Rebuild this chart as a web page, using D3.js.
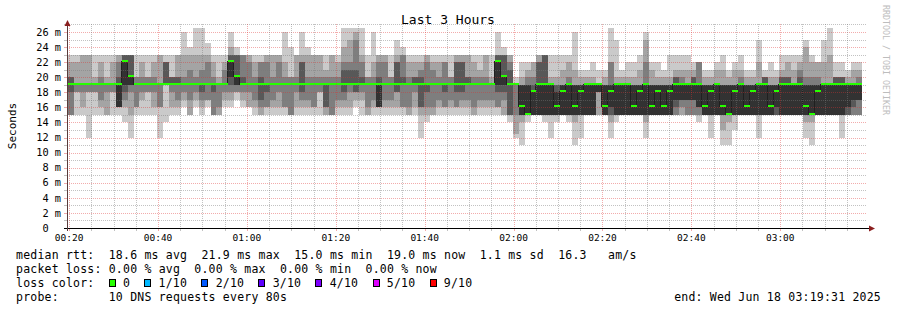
<!DOCTYPE html>
<html><head><meta charset="utf-8">
<script src="https://cdn.jsdelivr.net/npm/d3@7"></script>
<style>
body{margin:0;background:#fff}
svg text{font-family:"DejaVu Sans Mono",monospace}
</style>
</head><body>
<svg id="chart" width="897" height="310"></svg>
<script>
// ---------------- data ----------------
const title = "Last 3 Hours";
const yAxisTitle = "Seconds";
const watermark = "RRDTOOL / TOBI OETIKER";
const startTime = new Date(2025, 5, 18, 0, 19, 31);
const endTime = new Date(2025, 5, 18, 3, 19, 31);
const firstStepEnd = new Date(2025, 5, 18, 0, 19, 49);
const stepSeconds = 80;
const yTickValues = [0, 2, 4, 6, 8, 10, 12, 14, 16, 18, 20, 22, 24, 26];
const yTickLabels = ["0", "2 m", "4 m", "6 m", "8 m", "10 m", "12 m", "14 m", "16 m", "18 m", "20 m", "22 m", "24 m", "26 m"];
const xTickLabels = ["00:20", "00:40", "01:00", "01:20", "01:40", "02:00", "02:20", "02:40", "03:00"];

// 10 sorted ping times (ms) per 80 s step
const pingsByStep = [
[15,15,16,18,19,19,20,21,22,23],[15,15,15,18,19,19,20,20,22,23],[15,18,18,19,19,19,19,19,22,23],[15,16,18,19,19,19,19,19,23,23],
[12,18,18,19,19,19,19,19,23,23],[15,18,18,19,19,19,19,19,20,23],[15,16,17,19,19,19,19,20,22,23],[15,15,18,19,19,19,19,19,20,23],
[15,18,18,19,19,19,19,19,22,23],[15,16,16,16,16,19,20,22,23,23],[14,16,17,18,19,22,23,23,23,23],[12,15,18,19,19,20,23,23,23,23],
[15,16,16,19,19,19,19,20,20,23],[15,17,18,19,19,19,19,20,22,23],[15,18,18,19,19,19,19,20,20,23],[15,16,18,19,19,19,19,20,22,23],
[12,16,16,19,19,19,19,19,23,23],[14,19,19,19,19,19,22,22,22,23],[15,16,18,19,19,19,20,20,20,23],[15,16,17,19,19,19,20,20,23,23],
[16,17,18,19,19,19,19,20,23,26],[15,15,17,19,19,19,19,21,23,24],[16,17,18,19,19,19,19,20,23,26.5],[15,16,17,18,19,19,19,21,23,26.5],
[16,17,17,19,19,19,19,22,23,24.5],[15,15,15,18,19,19,19,20,22,23],[15,15,16,19,19,19,19,19,20,23],[16,17,18,19,19,19,19,21,22,23],
[16,17,18,19,20,22,23,23,24,26],[17,18,18,19,19,20,23,23,23,24],[16,17,18,19,19,19,20,23,23,23],[16,16,18,19,19,19,19,22,23,23],
[15,16,17,19,19,19,19,20,22,23],[15,15,16,17,19,19,20,22,22,23],[15,16,16,18,19,19,19,22,23,23],[15,16,17,19,19,19,19,20,23,23],
[15,16,18,19,19,19,19,22,23,23],[15,16,16,19,19,19,19,20,22,26],[15,15,15,19,19,19,19,20,20,24],[15,16,18,19,19,19,19,20,23,23],
[15,16,17,18,19,19,22,22,23,26],[15,16,17,19,19,19,19,20,23,24],[15,16,16,19,19,19,19,20,23,23],[15,18,18,19,19,19,19,20,23,23],
[15,15,16,16,19,19,19,20,21,23],[15,15,15,19,19,19,19,20,23,23],[15,16,17,19,19,19,19,20,22,23],[15,16,17,18,19,19,21,22,24,26.5],
[15,16,18,19,19,19,21,22,25,26.5],[16,17,18,18,19,19,21,25,26,26.5],[15,17,18,19,19,19,20,22,23,26.5],[15,15,16,19,19,19,19,20,20,23],
[15,16,17,19,19,19,19,20,22,26],[15,16,16,16,16,19,20,22,23,23],[15,16,17,19,19,19,19,22,23,23],[15,16,17,19,19,19,19,20,20,23],
[15,16,18,18,19,19,22,22,23,25],[15,16,16,19,19,19,20,23,23,24],[15,15,16,19,19,19,19,20,22,23],[15,16,18,19,19,19,20,20,22,23],
[12,15,16,16,19,19,20,21,22,23],[14,15,16,18,19,19,19,22,23,23],[15,15,16,19,19,19,19,21,22,23],[15,16,17,19,19,19,19,20,22,23],
[15,16,16,18,19,19,19,22,22,23],[15,16,17,19,19,19,19,20,20,23],[15,16,16,18,19,19,22,22,23,23],[15,16,17,18,19,19,22,22,23,23],
[15,16,17,19,19,19,20,20,23,23],[15,15,16,19,19,19,19,20,22,23],[15,16,17,19,19,19,19,20,21,23],[15,16,17,19,19,19,19,20,23,23],
[15,16,17,19,19,19,19,19,20,23],[15,16,16,18,19,22,23,23,23,26],[15,15,17,18,19,20,23,23,23,24],[14,15,15,15,19,19,21,22,23,23],
[12,12.5,15,19,19,19,19,19,19,20],[11,14,15,15,15,19,19,19,20,22],[14,15,15,15,15,19,19,20,21,22],[15,15,15,15,15,18,19,20,22,22],
[15,15,15,15,15,19,22,22,23,23],[14,15,15,15,15,19,23,23,23,23],[12,15,15,15,15,19,19,19,20,23],[14,15,15,15,15,18,19,19,20,23],
[15,15,15,15,15,19,19,19,21,23],[14,15,15,15,15,19,19,20,22,23],[11,14,15,15,15,19,19,19,21,26],[12,15,15,15,15,19,19,19,20,21],
[15,15,15,15,15,19,19,19,20,21],[15,15,15,15,15,19,19,19,20,22],[15,15,18,18,18,19,19,19,19,21],[15,15,15,15,15,19,19,19,20,21],
[12,14,15,15,16,19,19,22,22,26.5],[14,15,15,15,15,19,19,19,20,25],[15,15,15,15,15,19,19,19,20,21],[15,15,15,15,15,19,19,19,20,22],
[15,15,15,15,15,19,19,19,20,22],[15,15,15,15,15,19,19,19,21,23],[12,14,15,15,15,19,19,22,25,26],[15,15,15,15,15,19,19,19,21,22],
[15,15,15,15,15,19,19,19,20,22],[15,15,15,15,15,19,19,19,20,21],[15,15,15,15,15,19,19,19,20,23],[15,15,15,16,17,19,20,20,21,23],
[15,15,16,17,17,19,19,20,21,23],[15,15,15,17,17,19,19,19,21,23],[15,15,15,17,17,19,20,20,21,22],[14,15,15,16,16,19,19,22,22,22],
[15,15,15,15,15,19,19,19,20,21],[12,15,15,15,15,19,19,19,20,21],[15,15,15,15,15,19,19,19,21,22],[11,13,15,15,15,19,19,19,21,23],
[11,14,15,15,15,19,19,19,20,21],[13,15,15,15,15,19,19,19,21,22],[15,15,15,15,15,19,19,20,21,23],[15,15,15,15,15,19,19,19,20,21],
[15,15,15,15,15,19,19,19,20,21],[12,15,15,15,15,19,19,19,22,25],[15,15,15,15,15,19,20,20,20,21],[15,15,15,15,15,19,19,19,20,22],
[15,15,15,15,16,19,19,19,20,21],[15,15,15,15,15,19,20,20,21,23],[15,15,15,15,15,19,20,20,22,23],[15,15,15,15,15,19,19,19,21,23],
[15,15,15,15,15,19,20,21,22,23],[12,14,15,15,15,19,19,20,24,25],[11,14,15,15,15,19,19,20,22,23],[15,15,15,15,15,19,19,20,22,22],
[15,15,15,15,15,19,19,19,22,25],[15,15,15,15,15,19,19,19,23,26.5],[15,15,15,15,15,19,20,20,20,22],[12,15,15,15,15,19,20,20,20,22],
[15,15,15,15,16,19,19,19,20,21],[15,15,15,16,17,19,19,19,21,22],[15,15,15,17,17,19,19,20,21,22]
];

// median rtt (ms) per step
const medianByStep = [
19,19,19,19,19,19,19,19,19,19,
22,20,19,19,19,19,19,19,19,19,
19,19,19,19,19,19,19,19,22,20,
19,19,19,19,19,19,19,19,19,19,
19,19,19,19,19,19,19,19,19,19,
19,19,19,19,19,19,19,19,19,19,
19,19,19,19,19,19,19,19,19,19,
19,19,19,22,20,19,19,16,15,18,
19,19,19,16,18,19,16,18,19,19,
19,16,18,19,19,19,16,18,19,16,
18,16,18,19,19,19,19,19,16,18,
19,16,15,18,19,16,18,19,19,16,
18,19,19,19,19,16,15,18,19,19,
19,19,19,19,19
];

const smokeColors = ["#cacaca", "#a4a4a4", "#7e7e7e", "#585858", "#323232"];
const lossLabels = ["0", "1/10", "2/10", "3/10", "4/10", "5/10", "9/10"];
const lossColors = ["#26ff00", "#00b8ff", "#0059ff", "#5e00ff", "#7e00ff", "#dd00ff", "#ff0000"];
const statLines = [
  "median rtt:  18.6 ms avg  21.9 ms max  15.0 ms min  19.0 ms now  1.1 ms sd  16.3   am/s",
  "packet loss: 0.00 % avg  0.00 % max  0.00 % min  0.00 % now",
  "loss color:",
  "probe:       10 DNS requests every 80s"
];
const endLabel = "end: Wed Jun 18 03:19:31 2025";

// ---------------- drawing ----------------
const svg = d3.select("#chart");
const plotLeft = 67, plotRight = 867, plotTop = 24, plotBottom = 228;
const yMax = 27.06;
const x = d3.scaleTime().domain([startTime, endTime]).range([plotLeft, plotRight]);
const y = d3.scaleLinear().domain([0, yMax]).range([plotBottom, plotTop]);

svg.append("rect").attr("width", 897).attr("height", 310).attr("fill", "#ffffff");

const cols = pingsByStep.map((p, i) => {
  const t0 = i === 0 ? startTime : new Date(firstStepEnd.getTime() + (i - 1) * stepSeconds * 1000);
  const t1 = new Date(firstStepEnd.getTime() + i * stepSeconds * 1000);
  return { p, m: medianByStep[i], x0: Math.round(x(t0)), x1: Math.round(x(t1)) };
});

const smoke = svg.append("g").attr("shape-rendering", "crispEdges");
smokeColors.forEach((c, b) => {
  smoke.append("g").selectAll("rect")
    .data(cols.filter(d => d.p[9 - b] > d.p[b]))
    .join("rect")
    .attr("x", d => d.x0)
    .attr("width", d => d.x1 - d.x0)
    .attr("y", d => Math.round(y(d.p[9 - b])))
    .attr("height", d => Math.round(y(d.p[b])) - Math.round(y(d.p[9 - b])))
    .attr("fill", c);
});

// median dark step line
let path = "";
cols.forEach((d, i) => {
  const ym = Math.round(y(d.m)) - 0.5;
  if (i === 0) path += `M${d.x0},${ym}`;
  else path += `V${ym}`;
  path += `H${d.x1 - 0.5}`;
});
svg.append("path").attr("d", path).attr("fill", "none").attr("stroke", "#202020")
  .attr("stroke-width", 1).attr("shape-rendering", "crispEdges");

// median loss-colour bars
svg.append("g").attr("shape-rendering", "crispEdges").selectAll("rect")
  .data(cols).join("rect")
  .attr("x", d => d.x0).attr("width", d => d.x1 - d.x0)
  .attr("y", d => Math.round(y(d.m)) - 2).attr("height", 2)
  .attr("fill", lossColors[0]);

// grid
const grid = svg.append("g").attr("shape-rendering", "crispEdges");
const minorCol = "rgba(120,120,120,0.45)", majorCol = "rgba(222,48,48,0.4)";
d3.range(1, 28).filter(v => v <= yMax).forEach(v => {
  const yy = Math.round(y(v)) + 0.5;
  const major = v % 2 === 0;
  grid.append("line").attr("x1", plotLeft).attr("x2", plotRight).attr("y1", yy).attr("y2", yy)
    .attr("stroke", major ? majorCol : minorCol).attr("stroke-dasharray", "1,1");
  grid.append("line").attr("x1", plotLeft - 3).attr("x2", plotLeft).attr("y1", yy).attr("y2", yy)
    .attr("stroke", major ? majorCol : minorCol);
});
d3.timeMinute.every(5).range(startTime, endTime).forEach(t => {
  const xx = Math.round(x(t)) + 0.5;
  const major = t.getMinutes() % 20 === 0;
  grid.append("line").attr("x1", xx).attr("x2", xx).attr("y1", plotTop).attr("y2", plotBottom)
    .attr("stroke", major ? majorCol : minorCol).attr("stroke-dasharray", "1,1");
  grid.append("line").attr("x1", xx).attr("x2", xx).attr("y1", plotBottom).attr("y2", plotBottom + 3)
    .attr("stroke", major ? majorCol : minorCol);
});

// axes
svg.append("line").attr("x1", plotLeft - 3).attr("x2", plotRight + 3).attr("y1", plotBottom + 0.5).attr("y2", plotBottom + 0.5)
  .attr("stroke", "#000").attr("shape-rendering", "crispEdges");
svg.append("line").attr("x1", plotLeft + 0.5).attr("x2", plotLeft + 0.5).attr("y1", plotBottom + 3).attr("y2", plotTop - 2)
  .attr("stroke", "#5a3a3a").attr("shape-rendering", "crispEdges");
svg.append("path").attr("d", `M${plotLeft - 2.5},${plotTop + 2}L${plotLeft + 3.5},${plotTop + 2}L${plotLeft + 0.5},${plotTop - 4}Z`)
  .attr("fill", "#8b1f1f");
svg.append("path").attr("d", `M${plotRight + 2},${plotBottom - 2.5}L${plotRight + 2},${plotBottom + 3.5}L${plotRight + 8},${plotBottom + 0.5}Z`)
  .attr("fill", "#8b1f1f");

// y labels
svg.append("g").selectAll("text").data(yTickValues).join("text")
  .attr("x", 61).attr("y", v => y(v) + 3.7)
  .attr("text-anchor", "end").attr("font-size", "10.3px").attr("fill", "#000")
  .attr("xml:space", "preserve")
  .text((v, i) => v === 0 ? yTickLabels[i] + "\u00a0\u00a0" : yTickLabels[i]);

// x labels
const parseHM = s => { const [h, m] = s.split(":").map(Number); return new Date(2025, 5, 18, h, m, 0); };
svg.append("g").selectAll("text").data(xTickLabels).join("text")
  .attr("x", s => x(parseHM(s))).attr("y", 240.5)
  .attr("text-anchor", "middle").attr("font-size", "9.5px").attr("fill", "#000")
  .text(s => s);

// titles
svg.append("text").attr("x", 448).attr("y", 24).attr("text-anchor", "middle")
  .attr("font-size", "13px").attr("fill", "#000").text(title);
svg.append("text").attr("transform", "translate(16,126) rotate(-90)").attr("text-anchor", "middle")
  .attr("font-size", "11px").attr("fill", "#000").text(yAxisTitle);
svg.append("text").attr("transform", "translate(883,5) rotate(90)").attr("text-anchor", "start")
  .attr("font-size", "8.3px").attr("fill", "#bdbdbd").text(watermark);

// legend
const charW = 7.13, legX = 16;
const baselines = [258.5, 272.5, 286.5, 300.5];
statLines.forEach((s, i) => {
  svg.append("text").attr("x", legX).attr("y", baselines[i]).attr("xml:space", "preserve")
    .attr("font-size", "11.5px").attr("letter-spacing", "0.21px").attr("fill", "#000").text(s);
});
let col = 13;
lossLabels.forEach((lab, i) => {
  const bx = Math.round(legX + col * charW) + 0.5;
  svg.append("rect").attr("x", bx).attr("y", 279.5).attr("width", 6).attr("height", 7)
    .attr("fill", lossColors[i]).attr("stroke", "#000").attr("stroke-width", 1).attr("shape-rendering", "crispEdges");
  svg.append("text").attr("x", legX + (col + 2) * charW).attr("y", baselines[2]).attr("font-size", "11.5px")
    .attr("letter-spacing", "0.21px").attr("fill", "#000").text(lab);
  col += 2 + lab.length + 2;
});
svg.append("text").attr("x", 881).attr("y", baselines[3]).attr("text-anchor", "end").attr("font-size", "11.5px")
  .attr("letter-spacing", "0.21px").attr("fill", "#000").text(endLabel);
</script>
</body></html>
